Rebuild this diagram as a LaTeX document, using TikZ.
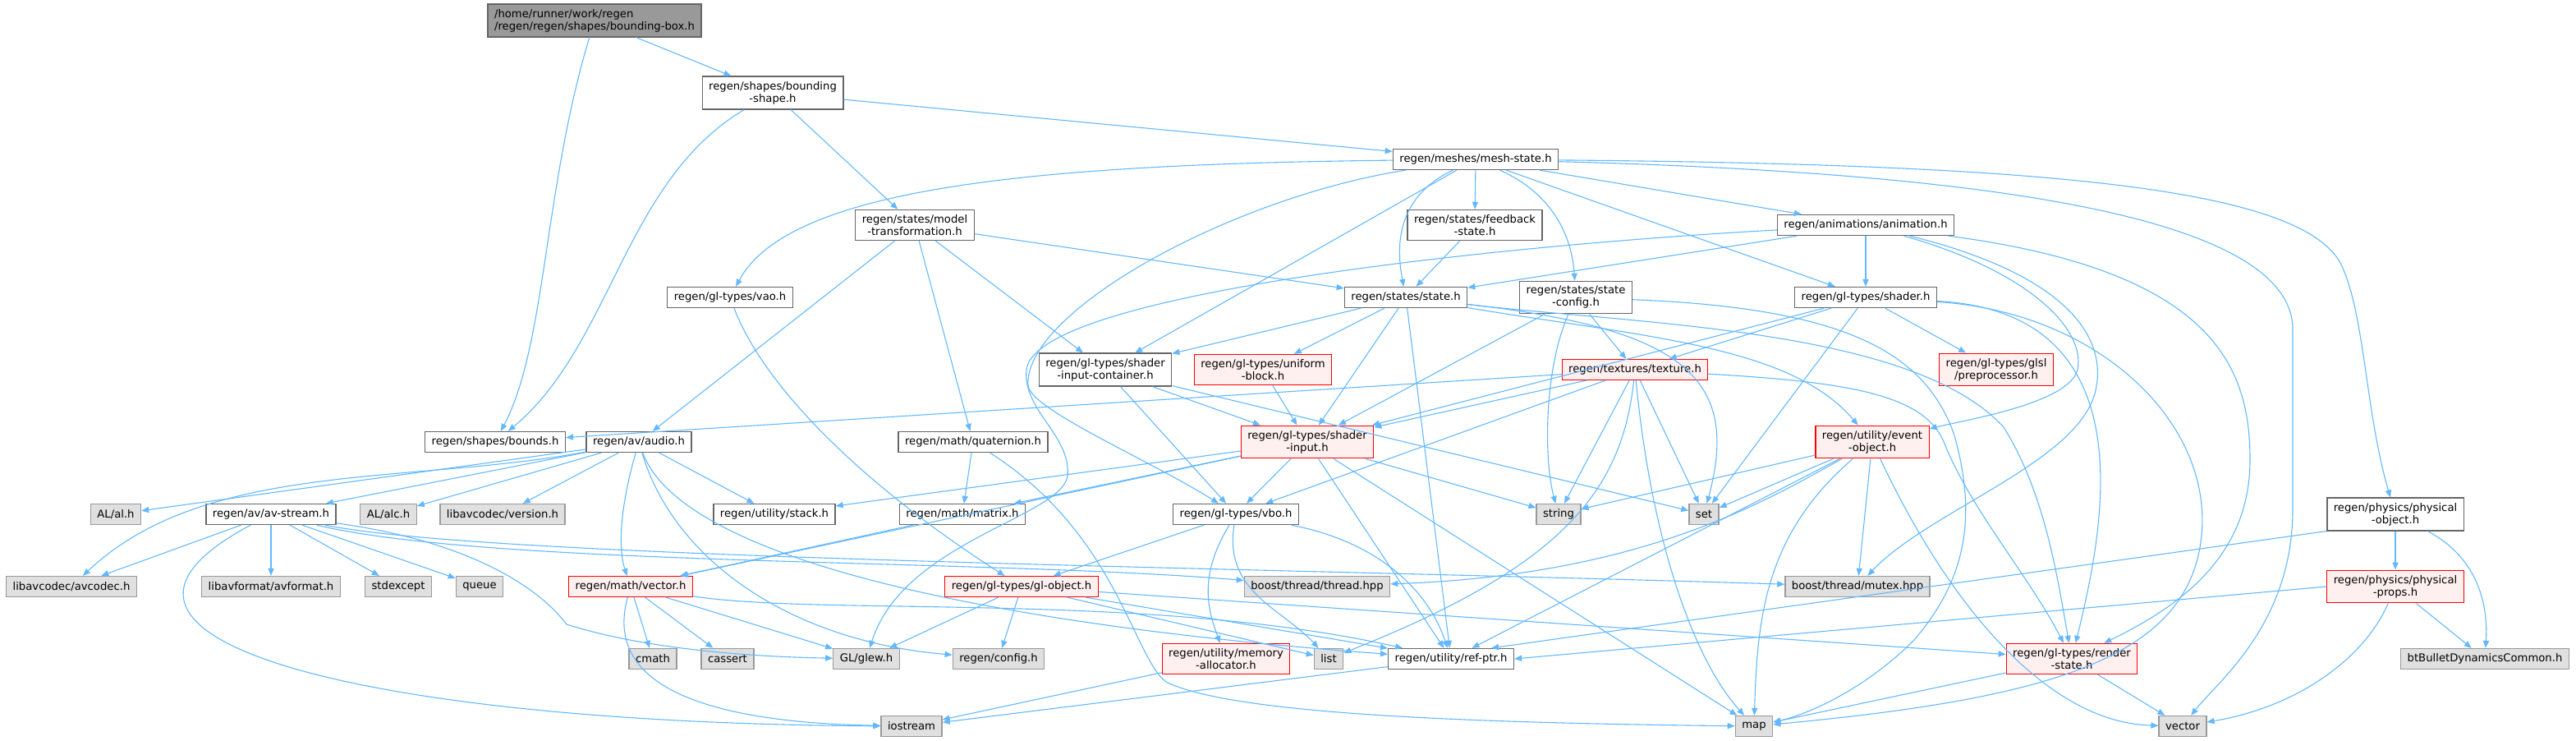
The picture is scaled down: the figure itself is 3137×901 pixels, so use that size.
\documentclass[tikz,border=0pt]{standalone}
\usepackage{fontspec}
\setmainfont{DejaVu Sans}
\usepackage{xcolor}
\usetikzlibrary{arrows.meta}

\definecolor{depblue}{HTML}{63B8FF}
\definecolor{hdrline}{HTML}{666666}
\definecolor{sysline}{HTML}{999999}
\definecolor{sysfill}{HTML}{E0E0E0}
\definecolor{badfill}{HTML}{FFF0F0}
\definecolor{rootfill}{HTML}{999999}

\begin{document}
\begin{tikzpicture}[x=0.5pt, y=-0.5pt,
        hdr/.style={draw=hdrline, fill=white, line width=0.65pt, font=\fontsize{6.6}{7.5}\selectfont,
            align=center, inner xsep=4pt, inner ysep=3pt, minimum height=12.5pt},
        sys/.style={hdr, draw=sysline, fill=sysfill},
        bad/.style={hdr, draw=red, fill=badfill, line width=0.55pt},
        root/.style={hdr, fill=rootfill, align=left},
        dep/.style={draw=depblue, line width=0.55pt, -{Triangle[length=4.5pt,width=3.6pt]}},
    ]
        \useasboundingbox (0,0) rectangle (3137,901);

        % headers, row by row
        \node[root] (bbox) at (724,25) {/home/runner/work/regen\\/regen/regen/shapes/bounding-box.h};
        \node[hdr] (bshape) at (941,113) {regen/shapes/bounding\\-shape.h};
        \node[hdr] (mesh) at (1797,194) {regen/meshes/mesh-state.h};
        \node[hdr] (modeltr) at (1114,274) {regen/states/model\\-transformation.h};
        \node[hdr] (feedback) at (1796,274) {regen/states/feedback\\-state.h};
        \node[hdr] (anim) at (2272,274) {regen/animations/animation.h};
        \node[hdr] (vao) at (889,362) {regen/gl-types/vao.h};
        \node[hdr] (state) at (1712,362) {regen/states/state.h};
        \node[hdr] (stateconf) at (1919,362) {regen/states/state\\-config.h};
        \node[hdr] (shader) at (2272,362) {regen/gl-types/shader.h};
        \node[hdr] (sic) at (1346,450) {regen/gl-types/shader\\-input-container.h};
        \node[bad] (ublock) at (1538,450) {regen/gl-types/uniform\\-block.h};
        \node[bad] (texture) at (1991,450) {regen/textures/texture.h};
        \node[bad] (glsl) at (2431,450) {regen/gl-types/glsl\\/preprocessor.h};
        \node[hdr] (bounds) at (603,538) {regen/shapes/bounds.h};
        \node[hdr] (audio) at (778,538) {regen/av/audio.h};
        \node[hdr] (quat) at (1185,538) {regen/math/quaternion.h};
        \node[bad] (sinput) at (1592,538) {regen/gl-types/shader\\-input.h};
        \node[bad] (evobj) at (2280,538) {regen/utility/event\\-object.h};
        \node[sys] (alal) at (141,626) {AL/al.h};
        \node[hdr] (avstream) at (330,626) {regen/av/av-stream.h};
        \node[sys] (alalc) at (473,626) {AL/alc.h};
        \node[sys] (avver) at (612,626) {libavcodec/version.h};
        \node[hdr] (stack) at (943,626) {regen/utility/stack.h};
        \node[hdr] (matrix) at (1172,626) {regen/math/matrix.h};
        \node[hdr] (vbo) at (1505,626) {regen/gl-types/vbo.h};
        \node[sys] (string) at (1898,626) {string};
        \node[sys] (set) at (2075,626) {set};
        \node[hdr] (physobj) at (2917,626) {regen/physics/physical\\-object.h};
        \node[sys] (avcodec) at (87,714) {libavcodec/avcodec.h};
        \node[sys] (avformat) at (330,714) {libavformat/avformat.h};
        \node[sys] (stdexc) at (485,714) {stdexcept};
        \node[sys] (queue) at (584,714) {queue};
        \node[bad] (mvector) at (768,714) {regen/math/vector.h};
        \node[bad] (globj) at (1244,714) {regen/gl-types/gl-object.h};
        \node[sys] (thread) at (1604,714) {boost/thread/thread.hpp};
        \node[sys] (mutex) at (2262,714) {boost/thread/mutex.hpp};
        \node[bad] (physprops) at (2917,714) {regen/physics/physical\\-props.h};
        \node[sys] (cmath) at (795,802) {cmath};
        \node[sys] (cassert) at (886,802) {cassert};
        \node[sys] (glew) at (1055,802) {GL/glew.h};
        \node[sys] (config) at (1216,802) {regen/config.h};
        \node[bad] (memalloc) at (1493,802) {regen/utility/memory\\-allocator.h};
        \node[sys] (list) at (1618,802) {list};
        \node[hdr] (refptr) at (1767,802) {regen/utility/ref-ptr.h};
        \node[bad] (rstate) at (2523,802) {regen/gl-types/render\\-state.h};
        \node[sys] (btbullet) at (3026,802) {btBulletDynamicsCommon.h};
        \node[sys] (iostream) at (1110,884) {iostream};
        \node[sys] (map) at (2136,884) {map};
        \node[sys] (vector) at (2658,884) {vector};

        % includes
        \draw[dep] (bbox) -- (bshape);
        \draw[dep] (bbox) .. controls (662,230) and (665,420) .. (bounds);
        \draw[dep] (bshape) .. controls (760,220) and (745,420) .. (bounds);
        \draw[dep] (bshape) -- (modeltr);
        \draw[dep] (bshape) -- (mesh);

        \draw[dep] (mesh) .. controls (1250,200) and (960,230) .. (vao);
        \draw[dep] (mesh) .. controls (1700,240) and (1700,300) .. (state);
        \draw[dep] (mesh) -- (feedback);
        \draw[dep] (mesh) .. controls (1900,240) and (1915,300) .. (stateconf);
        \draw[dep] (mesh) -- (sic);
        \draw[dep] (mesh) .. controls (1500,240) and (1245,380) .. (1252,470)
            .. controls (1258,500) and (1400,560) .. (vbo);
        \draw[dep] (mesh) -- (anim);
        \draw[dep] (mesh) -- (shader);
        \draw[dep] (mesh) .. controls (2500,200) and (2800,230) .. (2850,320)
            .. controls (2880,380) and (2880,500) .. (physobj);
        \draw[dep] (mesh) .. controls (2400,210) and (2790,260) .. (2792,400) -- (2792,620)
            .. controls (2792,760) and (2700,830) .. (vector);
        \draw[dep] (feedback) -- (state);

        \draw[dep] (modeltr) -- (audio);
        \draw[dep] (modeltr) -- (quat);
        \draw[dep] (modeltr) -- (sic);
        \draw[dep] (modeltr) -- (state);
        \draw[dep] (vao) .. controls (930,470) and (1050,590) .. (globj);

        \draw[dep] (anim) -- (shader);
        \draw[dep] (anim) -- (state);
        \draw[dep] (anim) .. controls (1800,300) and (1260,360) .. (1250,450)
            .. controls (1245,500) and (1305,530) .. (1300,580)
            .. controls (1290,630) and (1100,660) .. (glew);
        \draw[dep] (anim) .. controls (2470,330) and (2540,400) .. (2530,450)
            .. controls (2520,490) and (2400,510) .. (evobj);
        \draw[dep] (anim) .. controls (2500,330) and (2565,400) .. (2553,470)
            .. controls (2540,560) and (2350,620) .. (mutex);
        \draw[dep] (anim) .. controls (2700,330) and (2740,450) .. (2740,560)
            .. controls (2740,680) and (2650,740) .. (rstate);

        \draw[dep] (state) -- (sic);
        \draw[dep] (state) -- (ublock);
        \draw[dep] (state) -- (sinput);
        \draw[dep] (state) -- (refptr);
        \draw[dep] (state) .. controls (2050,400) and (2120,460) .. (set);
        \draw[dep] (state) .. controls (2000,410) and (2180,420) .. (evobj);
        \draw[dep] (state) .. controls (2000,395) and (2330,400) .. (2440,520)
            .. controls (2490,600) and (2505,700) .. (rstate);

        \draw[dep] (stateconf) -- (sinput);
        \draw[dep] (stateconf) -- (texture);
        \draw[dep] (stateconf) .. controls (1880,450) and (1880,560) .. (string);
        \draw[dep] (stateconf) .. controls (2250,375) and (2345,430) .. (2380,530)
            .. controls (2405,620) and (2400,700) .. (2330,780)
            .. controls (2270,840) and (2200,870) .. (map);

        \draw[dep] (shader) -- (texture);
        \draw[dep] (shader) -- (sinput);
        \draw[dep] (shader) -- (set);
        \draw[dep] (shader) -- (glsl);
        \draw[dep] (shader) .. controls (2620,380) and (2560,650) .. (rstate);
        \draw[dep] (shader) .. controls (2560,380) and (2700,520) .. (2680,660)
            .. controls (2660,800) and (2500,850) .. (map);

        \draw[dep] (sic) -- (sinput);
        \draw[dep] (sic) -- (vbo);
        \draw[dep] (sic) -- (set);
        \draw[dep] (ublock) -- (sinput);

        \draw[dep] (texture) -- (bounds);
        \draw[dep] (texture) -- (sinput);
        \draw[dep] (texture) -- (vbo);
        \draw[dep] (texture) -- (string);
        \draw[dep] (texture) -- (set);
        \draw[dep] (texture) .. controls (1975,600) and (1900,690) .. (list);
        \draw[dep] (texture) .. controls (2010,650) and (2060,800) .. (map);
        \draw[dep] (texture) .. controls (2250,465) and (2345,480) .. (2368,540)
            .. controls (2400,620) and (2470,700) .. (rstate);

        \draw[dep] (sinput) -- (stack);
        \draw[dep] (sinput) -- (matrix);
        \draw[dep] (sinput) -- (mvector);
        \draw[dep] (sinput) -- (vbo);
        \draw[dep] (sinput) -- (string);
        \draw[dep] (sinput) -- (refptr);
        \draw[dep] (sinput) -- (map);

        \draw[dep] (evobj) -- (string);
        \draw[dep] (evobj) -- (set);
        \draw[dep] (evobj) .. controls (2150,610) and (2000,700) .. (thread);
        \draw[dep] (evobj) -- (refptr);
        \draw[dep] (evobj) .. controls (2150,650) and (2140,750) .. (map);
        \draw[dep] (evobj) -- (mutex);
        \draw[dep] (evobj) .. controls (2380,750) and (2500,880) .. (vector);

        \draw[dep] (quat) -- (matrix);
        \draw[dep] (quat) .. controls (1360,650) and (1380,800) .. (1420,830)
            .. controls (1500,870) and (1800,880) .. (map);
        \draw[dep] (matrix) -- (mvector);

        \draw[dep] (vbo) -- (globj);
        \draw[dep] (vbo) .. controls (1460,700) and (1470,740) .. (memalloc);
        \draw[dep] (vbo) .. controls (1490,720) and (1560,740) .. (list);
        \draw[dep] (vbo) .. controls (1680,660) and (1740,720) .. (refptr);

        \draw[dep] (globj) -- (glew);
        \draw[dep] (globj) -- (config);
        \draw[dep] (globj) -- (list);
        \draw[dep] (globj) -- (refptr);
        \draw[dep] (globj) -- (rstate);

        \draw[dep] (audio) -- (alal);
        \draw[dep] (audio) -- (avstream);
        \draw[dep] (audio) -- (alalc);
        \draw[dep] (audio) -- (avver);
        \draw[dep] (audio) -- (stack);
        \draw[dep] (audio) .. controls (500,590) and (250,560) .. (avcodec);
        \draw[dep] (audio) .. controls (760,600) and (750,660) .. (mvector);
        \draw[dep] (audio) .. controls (820,680) and (960,780) .. (config);
        \draw[dep] (audio) .. controls (830,680) and (1200,760) .. (refptr);

        \draw[dep] (avstream) -- (avcodec);
        \draw[dep] (avstream) -- (avformat);
        \draw[dep] (avstream) -- (stdexc);
        \draw[dep] (avstream) -- (queue);
        \draw[dep] (avstream) .. controls (580,660) and (660,720) .. (690,760)
            .. controls (800,795) and (950,800) .. (glew);
        \draw[dep] (avstream) .. controls (40,780) and (450,880) .. (iostream);
        \draw[dep] (avstream) .. controls (600,690) and (1200,680) .. (thread);
        \draw[dep] (avstream) .. controls (600,680) and (1500,690) .. (mutex);

        \draw[dep] (mvector) -- (cmath);
        \draw[dep] (mvector) -- (cassert);
        \draw[dep] (mvector) -- (glew);
        \draw[dep] (mvector) .. controls (730,850) and (900,880) .. (iostream);
        \draw[dep] (mvector) .. controls (1000,750) and (1400,720) .. (refptr);

        \draw[dep] (memalloc) -- (iostream);
        \draw[dep] (refptr) -- (iostream);
        \draw[dep] (rstate) -- (map);
        \draw[dep] (rstate) -- (vector);

        \draw[dep] (physobj) -- (physprops);
        \draw[dep] (physobj) .. controls (3020,680) and (3030,740) .. (btbullet);
        \draw[dep] (physobj.south west) -- (refptr.15);
        \draw[dep] (physprops) -- (btbullet);
        \draw[dep] (physprops) .. controls (2880,800) and (2800,860) .. (vector);
        \draw[dep] (physprops.west) -- (refptr.east);
    \end{tikzpicture}
\end{document}
